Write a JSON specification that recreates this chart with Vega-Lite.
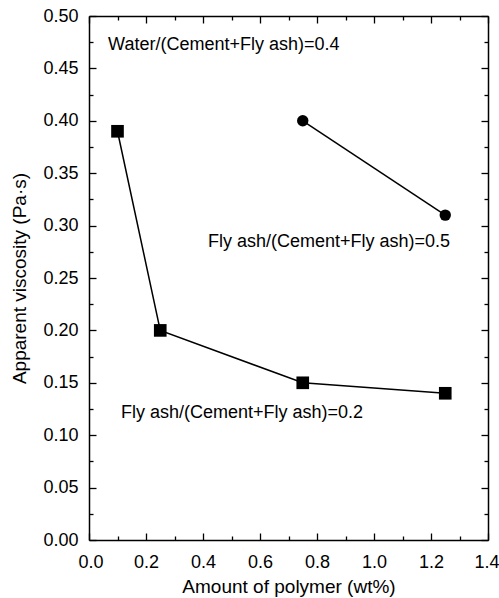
{
  "$schema": "https://vega.github.io/schema/vega-lite/v6.json",
  "width": 399,
  "height": 524,
  "autosize": {"type": "none"},
  "padding": {"left": 89, "top": 16, "right": 11, "bottom": 58},
  "background": "white",
  "config": {
    "view": {"stroke": null},
    "font": "Liberation Sans",
    "axis": {
      "grid": false,
      "domainColor": "black",
      "domainWidth": 1.5,
      "tickColor": "black",
      "tickWidth": 1.3,
      "labelColor": "black",
      "labelFontSize": 18,
      "titleColor": "black",
      "titleFontSize": 19,
      "titleFontWeight": "normal",
      "labelFont": "Liberation Sans",
      "titleFont": "Liberation Sans"
    }
  },
  "datasets": {
    "series": [
      {"amount": 0.1, "viscosity": 0.39, "series": "FA0.2"},
      {"amount": 0.25, "viscosity": 0.2, "series": "FA0.2"},
      {"amount": 0.75, "viscosity": 0.15, "series": "FA0.2"},
      {"amount": 1.25, "viscosity": 0.14, "series": "FA0.2"},
      {"amount": 0.75, "viscosity": 0.4, "series": "FA0.5"},
      {"amount": 1.25, "viscosity": 0.31, "series": "FA0.5"}
    ],
    "notes": [
      {"amount": 0.067, "viscosity": 0.472, "label": "Water/(Cement+Fly ash)=0.4"},
      {"amount": 0.4175, "viscosity": 0.284, "label": "Fly ash/(Cement+Fly ash)=0.5"},
      {"amount": 0.112, "viscosity": 0.121, "label": "Fly ash/(Cement+Fly ash)=0.2"}
    ]
  },
  "resolve": {"axis": {"x": "independent", "y": "independent"}},
  "layer": [
    {
      "data": {"name": "series"},
      "mark": {"type": "line", "color": "black", "strokeWidth": 1.5},
      "encoding": {
        "x": {
          "field": "amount", "type": "quantitative",
          "scale": {"domain": [0, 1.4], "nice": false, "zero": false},
          "axis": {
            "orient": "bottom",
            "values": [0, 0.1, 0.2, 0.3, 0.4, 0.5, 0.6, 0.7, 0.8, 0.9, 1.0, 1.1, 1.2, 1.3, 1.4],
            "labelExpr": "round(datum.value*10)%2==0 ? format(datum.value,'.1f') : ''",
            "tickSize": {"condition": {"test": "round(datum.value*10)%2==0", "value": -7}, "value": -4},
            "labelPadding": 20,
            "labelFlush": true,
            "labelFlushOffset": 11,
            "labelOverlap": false,
            "title": "Amount of polymer (wt%)",
            "titlePadding": 3
          }
        },
        "y": {
          "field": "viscosity", "type": "quantitative",
          "scale": {"domain": [0, 0.5], "nice": false, "zero": false},
          "axis": {
            "orient": "left",
            "values": [0, 0.025, 0.05, 0.075, 0.1, 0.125, 0.15, 0.175, 0.2, 0.225, 0.25, 0.275, 0.3, 0.325, 0.35, 0.375, 0.4, 0.425, 0.45, 0.475, 0.5],
            "labelExpr": "round(datum.value*40)%2==0 ? format(datum.value,'.2f') : ''",
            "tickSize": {"condition": {"test": "round(datum.value*40)%2==0", "value": -7}, "value": -4},
            "labelPadding": 18,
            "labelFlush": false,
            "labelOverlap": false,
            "title": "Apparent viscosity (Pa·s)",
            "titlePadding": 13
          }
        },
        "detail": {"field": "series"}
      }
    },
    {
      "data": {"name": "series"},
      "mark": {"type": "point", "filled": true, "color": "black", "opacity": 1},
      "encoding": {
        "x": {"field": "amount", "type": "quantitative", "axis": null},
        "y": {"field": "viscosity", "type": "quantitative", "axis": null},
        "shape": {"field": "series", "type": "nominal", "scale": {"domain": ["FA0.2", "FA0.5"], "range": ["square", "circle"]}, "legend": null},
        "size": {"field": "series", "type": "nominal", "scale": {"domain": ["FA0.2", "FA0.5"], "range": [160, 130]}, "legend": null}
      }
    },
    {
      "data": {"name": "notes"},
      "mark": {"type": "text", "align": "left", "baseline": "middle", "fontSize": 18, "color": "black", "font": "Liberation Sans"},
      "encoding": {
        "x": {"field": "amount", "type": "quantitative", "axis": null},
        "y": {"field": "viscosity", "type": "quantitative", "axis": null},
        "text": {"field": "label"}
      }
    },
    {
      "data": {"name": "series"},
      "mark": {"type": "point", "opacity": 0},
      "encoding": {
        "x": {
          "field": "amount", "type": "quantitative",
          "axis": {
            "orient": "top",
            "values": [0, 0.1, 0.2, 0.3, 0.4, 0.5, 0.6, 0.7, 0.8, 0.9, 1.0, 1.1, 1.2, 1.3, 1.4],
            "labels": false,
            "tickSize": {"condition": {"test": "round(datum.value*10)%2==0", "value": -7}, "value": -4},
            "title": null
          }
        },
        "y": {
          "field": "viscosity", "type": "quantitative",
          "axis": {
            "orient": "right",
            "values": [0, 0.025, 0.05, 0.075, 0.1, 0.125, 0.15, 0.175, 0.2, 0.225, 0.25, 0.275, 0.3, 0.325, 0.35, 0.375, 0.4, 0.425, 0.45, 0.475, 0.5],
            "labels": false,
            "tickSize": {"condition": {"test": "round(datum.value*40)%2==0", "value": -7}, "value": -4},
            "title": null
          }
        }
      }
    }
  ]
}
